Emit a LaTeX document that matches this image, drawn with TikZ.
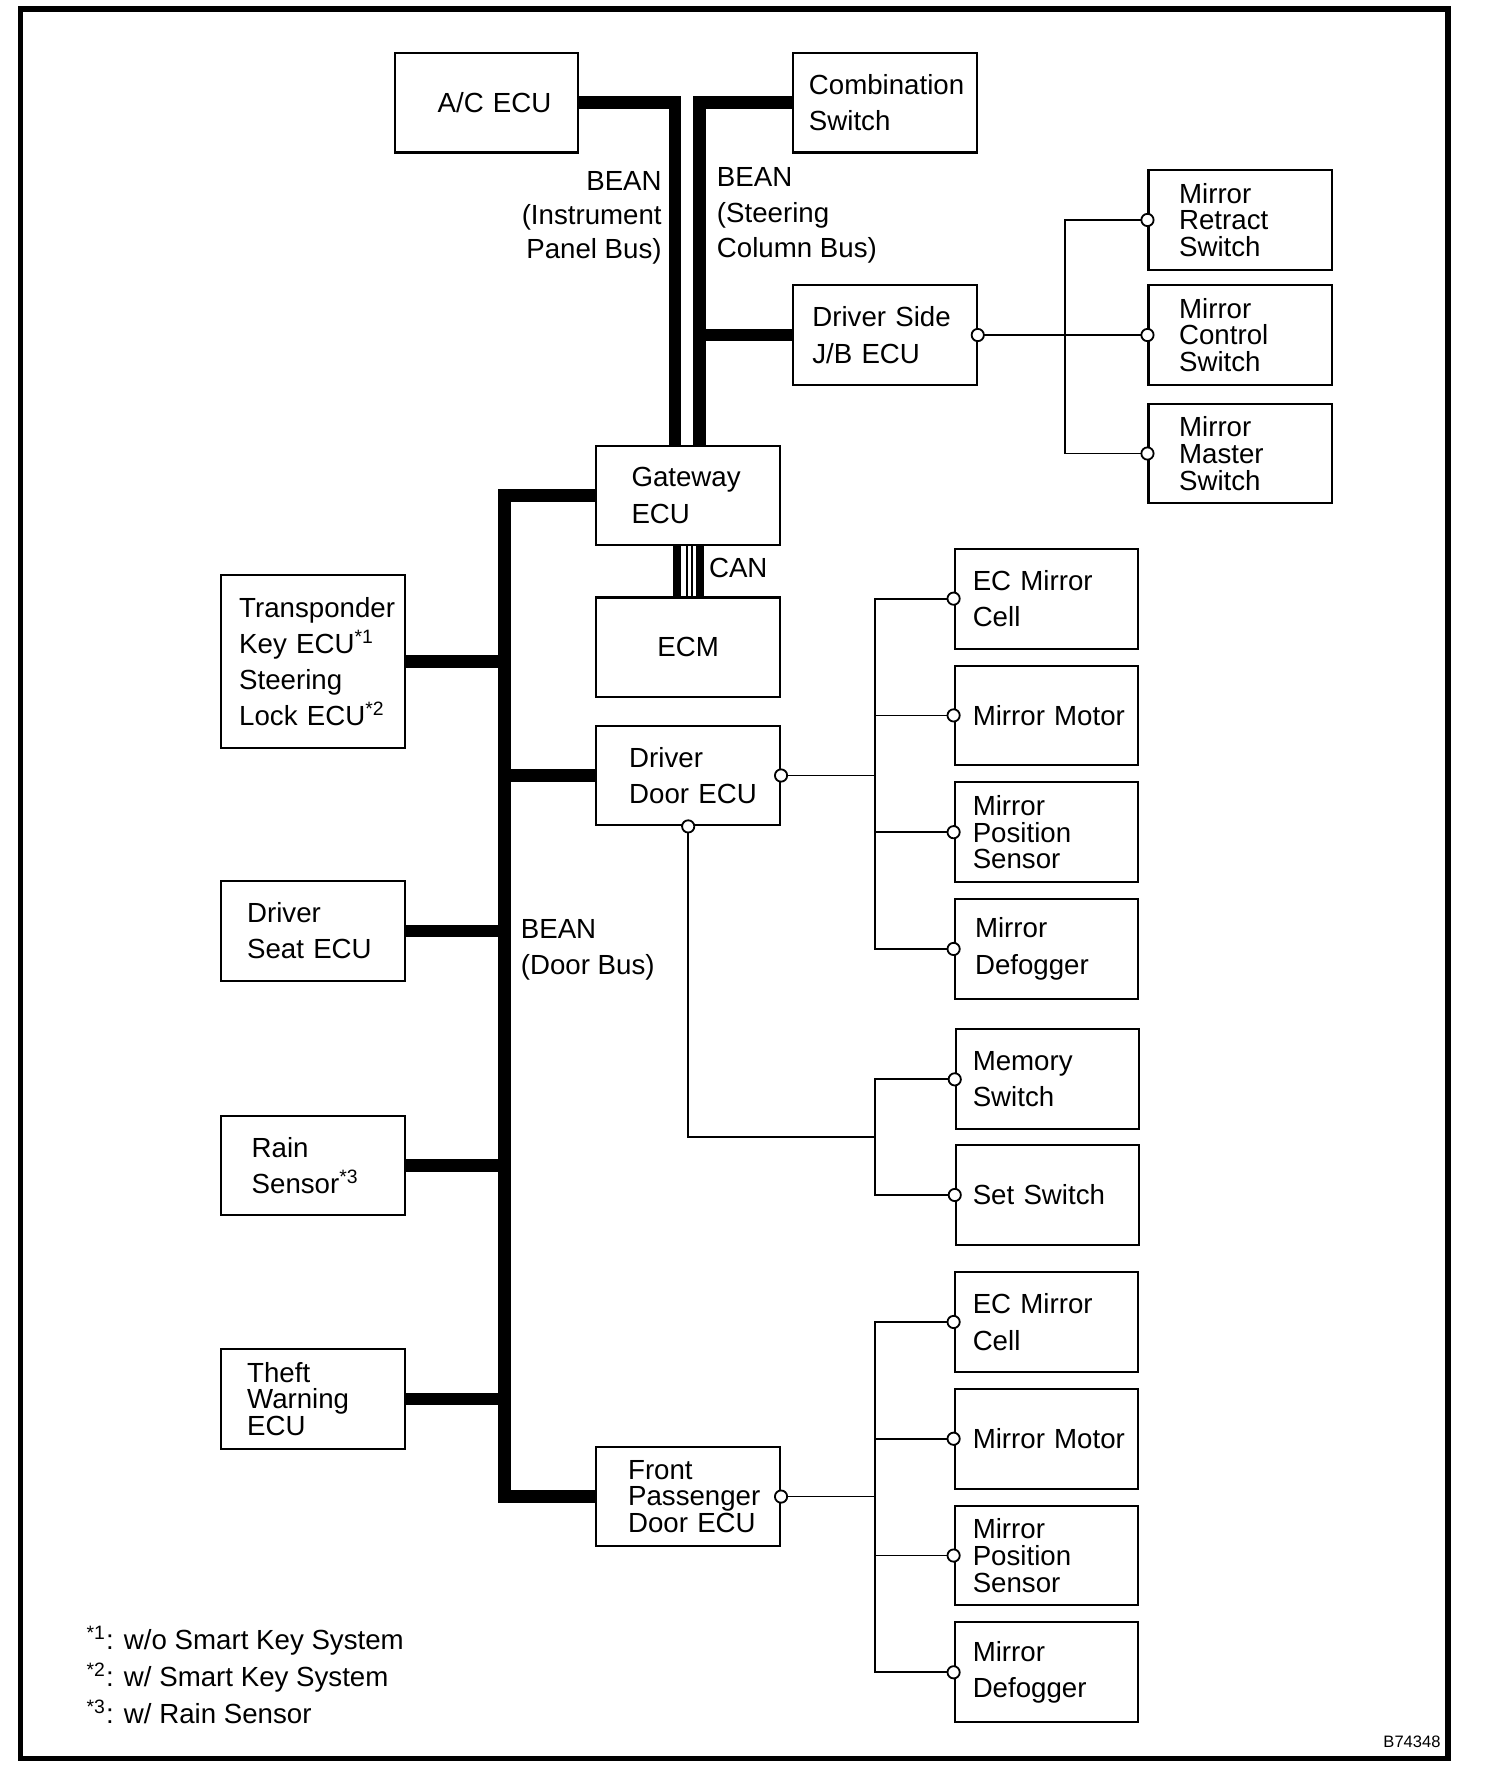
\documentclass[tikz,border=0pt]{standalone}
\usepackage{fontspec}
\setmainfont{Liberation Sans}
\usetikzlibrary{calc}
\newcommand\hb[1]{\mbox{#1}}
\begin{document}
\begin{tikzpicture}[x=0.5pt,y=-0.5pt,
 box/.style={draw, line width=0.9pt, minimum width=81pt, minimum height=44pt, inner ysep=0pt, align=left, font=\fontsize{12.2pt}{16pt}\selectfont},
 tight/.style={font=\fontsize{12.2pt}{11.75pt}\selectfont},
 pad/.style 2 args={inner xsep=#1pt, text width=#2pt},
 bus/.style={line width=5.5pt},
 canbus/.style={line width=3.5pt},
 canwire/.style={line width=0.9pt},
 wire/.style={line width=0.8pt},
 pinc/.style={draw, fill=white, line width=0.8pt},
 lbl/.style={inner sep=0pt, font=\fontsize{12.2pt}{15pt}\selectfont}]
\useasboundingbox (0,0) rectangle (1326.5,1570);
\draw[line width=2.5pt] (18,8) rectangle (1277,1551);

% boxes
\node[box, pad={19}{43}] (ac) at (429,90.5) {\hb{A/C ECU}};
\node[box, pad={7}{67}] (cs) at (780.5,90.5) {\hb{Combination}\\\hb{Switch}};
\node[box, pad={8.5}{64}] (jb) at (780.5,295.5) {\hb{Driver Side}\\\hb{J/B ECU}};
\node[box, tight, pad={13.5}{54}] (mrs) at (1094,194) {\hb{Mirror}\\\hb{Retract}\\\hb{Switch}};
\node[box, tight, pad={13.5}{54}] (mcs) at (1094,295.5) {\hb{Mirror}\\\hb{Control}\\\hb{Switch}};
\node[box, tight, pad={13.5}{54}] (mms) at (1094,400) {\hb{Mirror}\\\hb{Master}\\\hb{Switch}};
\node[box, pad={15.5}{50}] (gw) at (607,437) {\hb{Gateway}\\\hb{ECU}};
\node[box, align=center] (ecm) at (607,571) {ECM};
\node[box, pad={14.5}{52}] (dd) at (607,684) {\hb{Driver}\\\hb{Door ECU}};
\node[box, tight, pad={14}{53}] (fp) at (607,1320) {\hb{Front}\\\hb{Passenger}\\\hb{Door ECU}};
\node[box, pad={8}{65}, minimum height=76.5pt, font=\fontsize{12.2pt}{15.8pt}\selectfont] (tk) at (276,583.5)
  {\hb{Transponder}\\\hb{Key ECU\textsuperscript{*1}}\\\hb{Steering}\\\hb{Lock ECU\textsuperscript{*2}}};
\node[box, pad={11.5}{58}] (ds) at (276,821) {\hb{Driver}\\\hb{Seat ECU}};
\node[box, pad={13.5}{54}] (rs) at (276,1028) {\hb{Rain}\\\hb{Sensor\textsuperscript{*3}}};
\node[box, tight, pad={11.5}{58}] (tw) at (276,1234) {\hb{Theft}\\\hb{Warning}\\\hb{ECU}};
\node[box, pad={8}{65}] (ec1) at (923,528) {\hb{EC Mirror}\\\hb{Cell}};
\node[box, pad={8}{65}] (mm1) at (923,631) {\hb{Mirror Motor}};
\node[box, tight, pad={8}{65}] (mp1) at (923,734) {\hb{Mirror}\\\hb{Position}\\\hb{Sensor}};
\node[box, pad={9}{63}] (df1) at (923,837) {\hb{Mirror}\\\hb{Defogger}};
\node[box, pad={7.5}{66}] (mem) at (924,952) {\hb{Memory}\\\hb{Switch}};
\node[box, pad={7.5}{66}] (set) at (924,1054) {\hb{Set Switch}};
\node[box, pad={8}{65}] (ec2) at (923,1166) {\hb{EC Mirror}\\\hb{Cell}};
\node[box, pad={8}{65}] (mm2) at (923,1269) {\hb{Mirror Motor}};
\node[box, tight, pad={8}{65}] (mp2) at (923,1372) {\hb{Mirror}\\\hb{Position}\\\hb{Sensor}};
\node[box, pad={8}{65}] (df2) at (923,1475) {\hb{Mirror}\\\hb{Defogger}};

% bus coordinates
\coordinate (bl) at (595.5,90);
\coordinate (br) at (617,90);
\coordinate (db) at (445,438);
\coordinate (jx) at (939,295.5);
\coordinate (dx) at (772,684);
\coordinate (ms) at (772,1003);

% BEAN buses
\draw[bus] (ac.east) -| (bl |- gw.north);
\draw[bus] (cs.west) -| (br |- gw.north);
\draw[bus] (jb.west) -- (jb.west -| br);
\draw[bus] (gw.west) -| (db |- fp.west) -- (fp.west);
\draw[bus] (tk.east) -- (tk.east -| db);
\draw[bus] (ds.east) -- (ds.east -| db);
\draw[bus] (rs.east) -- (rs.east -| db);
\draw[bus] (tw.east) -- (tw.east -| db);
\draw[bus] (dd.west) -- (dd.west -| db);

% CAN
\draw[canbus] ([xshift=-5pt]gw.south) -- ([xshift=-5pt]ecm.north);
\draw[canbus] ([xshift=5.15pt]gw.south) -- ([xshift=5.15pt]ecm.north);
\draw[canwire] ([xshift=-0.5pt]gw.south) -- ([xshift=-0.5pt]ecm.north);
\draw[canwire] ([xshift=1.75pt]gw.south) -- ([xshift=1.75pt]ecm.north);

% thin wires
\draw[wire] (jb.east) -- (mcs.west);
\draw[wire] (mrs.west) -| (jx |- mms.west) -- (mms.west);
\draw[wire] (dd.east) -- (dx);
\draw[wire] (ec1.west) -| (dx |- df1.west) -- (df1.west);
\draw[wire] (mm1.west) -- (mm1.west -| dx);
\draw[wire] (mp1.west) -- (mp1.west -| dx);
\draw[wire] (dd.south) |- (ms);
\draw[wire] (mem.west) -| (ms) |- (set.west);
\draw[wire] (fp.east) -- (fp.east -| dx);
\draw[wire] (ec2.west) -| (dx |- df2.west) -- (df2.west);
\draw[wire] (mm2.west) -- (mm2.west -| dx);
\draw[wire] (mp2.west) -- (mp2.west -| dx);

% terminal circles
\foreach \p in {jb.east, mrs.west, mcs.west, mms.west, dd.east, dd.south,
  ec1.west, mm1.west, mp1.west, df1.west, mem.west, set.west,
  fp.east, ec2.west, mm2.west, mp2.west, df2.west}
  \draw[pinc] (\p) circle[radius=2.7pt];

% labels
\node[lbl, align=right, anchor=east] (lip) at (584,192) {BEAN\\(Instrument\\Panel Bus)};
\node[lbl, align=left, anchor=west, font=\fontsize{12.2pt}{15.5pt}\selectfont] (lsc) at (632,190) {BEAN\\(Steering\\Column Bus)};
\node[lbl, anchor=west] (lcan) at (625,501) {CAN};
\node[lbl, align=left, anchor=west, font=\fontsize{12.2pt}{16pt}\selectfont] (ldb) at (459,838) {BEAN\\(Door Bus)};
\node[lbl, align=left, anchor=west, font=\fontsize{12.2pt}{16.3pt}\selectfont] (legend) at (76,1477)
  {\textsuperscript{*1}: w/o Smart Key System\\\textsuperscript{*2}: w/ Smart Key System\\\textsuperscript{*3}: w/ Rain Sensor};
\node[lbl, anchor=east, font=\fontsize{7.3pt}{8pt}\selectfont] (code) at (1271,1536) {B74348};
\end{tikzpicture}
\end{document}
